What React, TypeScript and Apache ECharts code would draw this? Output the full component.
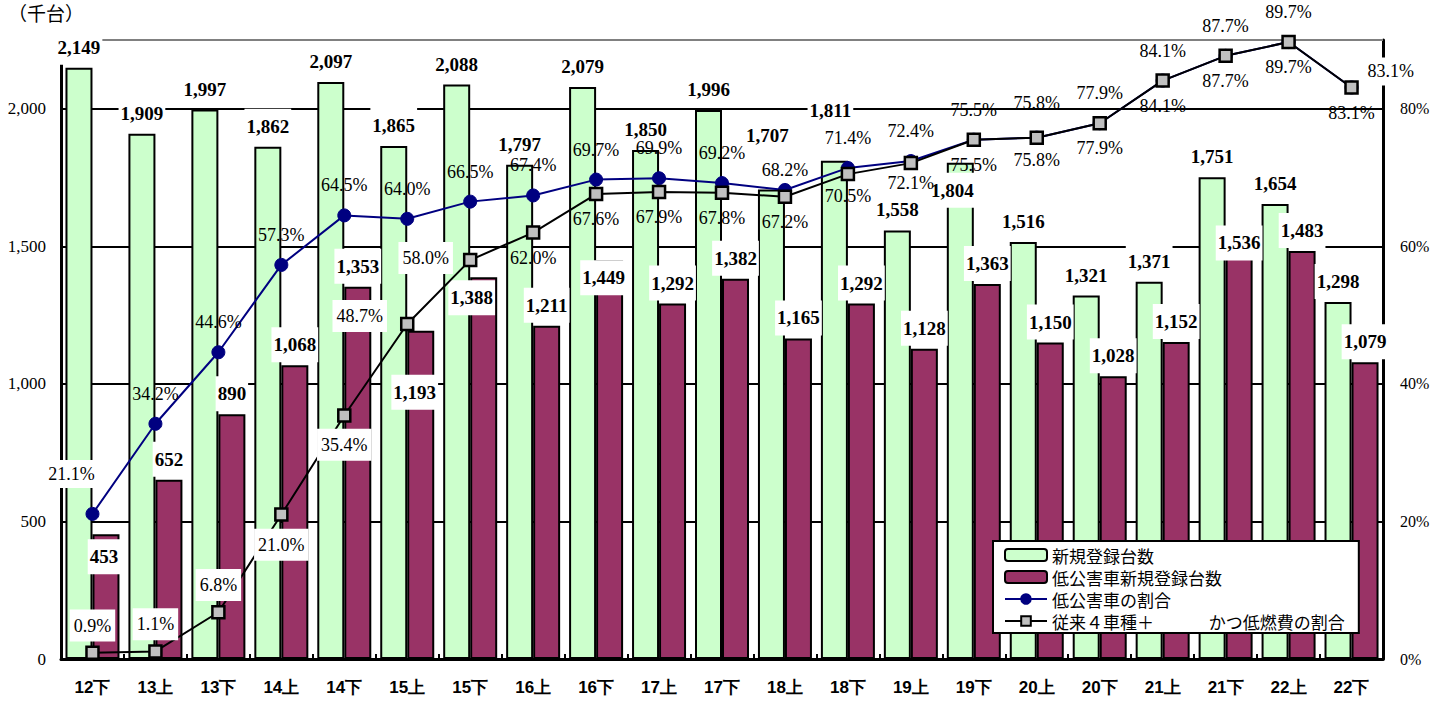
import React, { useEffect, useRef } from "react";
import * as echarts from "echarts";

const categories = ["12下","13上","13下","14上","14下","15上","15下","16上","16下","17上","17下","18上","18下","19上","19下","20上","20下","21上","21下","22上","22下"];
const newRegistrations = [2149,1909,1997,1862,2097,1865,2088,1797,2079,1850,1996,1707,1811,1558,1804,1516,1321,1371,1751,1654,1298];
const lowEmissionRegistrations = [453,652,890,1068,1353,1193,1388,1211,1449,1292,1382,1165,1292,1128,1363,1150,1028,1152,1536,1483,1079];
const lowEmissionShare = [21.1,34.2,44.6,57.3,64.5,64.0,66.5,67.4,69.7,69.9,69.2,68.2,71.4,72.4,75.5,75.8,77.9,84.1,87.7,89.7,83.1];
const fuelEfficientShare = [0.9,1.1,6.8,21.0,35.4,48.7,58.0,62.0,67.6,67.9,67.8,67.2,70.5,72.1,75.5,75.8,77.9,84.1,87.7,89.7,83.1];
const seriesNames = ["新規登録台数","低公害車新規登録台数","低公害車の割合","従来４車種＋　　　 かつ低燃費の割合"];
const unitLabel = "（千台）";
const leftAxisMax = 2250;
const rightAxisMax = 90;

const SERIF = "Liberation Serif";
const CJK = "Noto Sans CJK JP";

const fmtThousands = (v: number) => String(v).replace(/\B(?=(\d{3})+(?!\d))/g, ",");
const fmtPct = (v: number) => v.toFixed(1) + "%";

// label placement tweaks (layout only)
const greenShift: Record<number, [number, number]> = { 11: [-4, -33], 12: [-4, -30], 14: [-8, 48] };
const purpleShift: Record<number, [number, number]> = { 0: [-2, 43], 5: [-6, 82], 6: [-12, 41], 8: [-6, 38], 18: [0, 27] };

function blueLabel(i: number): any {
  if (i === 0) return { position: "top", distance: 15, offset: [-21, -4], backgroundColor: "#fff", padding: [6, 2] };
  if (i === 20) return { position: "right", distance: 7, offset: [0, -16], backgroundColor: "#fff", padding: [6, 2] };
  if (i === 11) return { position: "top", distance: 5 };
  if (i === 15) return { position: "top", distance: 20 };
  return { position: "top", distance: 15 };
}

function blackLabel(i: number): any {
  const boxed = { backgroundColor: "#fff", padding: [8, 4] };
  if (i <= 2) return { position: "top", distance: 4, ...boxed };
  if (i === 3) return { position: "bottom", distance: 7, ...boxed };
  if (i === 4) return { position: "bottom", distance: 6, ...boxed };
  if (i === 5) return { position: "left", distance: 13, offset: [0, -8], ...boxed };
  if (i === 6) return { position: "left", distance: 10, offset: [0, -2], ...boxed };
  if (i === 12 || i === 15) return { position: "bottom", distance: 7 };
  if (i === 13) return { position: "bottom", distance: 5 };
  return { position: "bottom", distance: 10 };
}

export default function App() {
  const ref = useRef<HTMLDivElement>(null);
  useEffect(() => {
    if (!ref.current) return;
    const chart = echarts.init(ref.current, undefined, { renderer: "svg" });
    const barLabel = {
      show: true,
      position: "top",
      distance: 3,
      fontFamily: SERIF,
      fontWeight: "bold",
      fontSize: 19,
      lineHeight: 17,
      color: "#000",
      backgroundColor: "#fff",
      padding: [9, 2],
      formatter: (p: any) => fmtThousands(p.value),
    };
    const pctLabel = {
      show: true,
      fontFamily: SERIF,
      fontSize: 18,
      lineHeight: 16,
      color: "#000",
      formatter: (p: any) => fmtPct(p.value),
    };
    chart.setOption({
      animation: false,
      backgroundColor: "#fff",
      grid: { left: 61, right: 64, top: 40, bottom: 42, outerBoundsMode: "none" },
      graphic: [
        {
          type: "text",
          left: 8,
          top: 3,
          style: { text: unitLabel, font: `19px ${CJK}`, fill: "#000" },
        },
      ],
      legend: {
        orient: "vertical",
        left: 993,
        top: 541,
        backgroundColor: "#fff",
        borderColor: "#000",
        borderWidth: 2,
        borderRadius: 0,
        padding: [5, 14, 3, 11],
        itemGap: 4,
        itemWidth: 42,
        itemHeight: 12,
        selectedMode: false,
        textStyle: { fontFamily: CJK, fontSize: 17, color: "#000", lineHeight: 18 },
        data: [
          { name: seriesNames[0], icon: "roundRect" },
          { name: seriesNames[1], icon: "roundRect" },
          { name: seriesNames[2] },
          { name: seriesNames[3] },
        ],
      },
      xAxis: {
        type: "category",
        data: categories,
        boundaryGap: true,
        axisLine: { show: true, lineStyle: { color: "#000", width: 3 } },
        axisTick: { show: true, inside: true, length: 5, lineStyle: { color: "#000", width: 2 } },
        axisLabel: {
          fontFamily: "Liberation Sans",
          fontWeight: "bold",
          fontSize: 17,
          color: "#000",
          margin: 20,
        },
        splitLine: { show: false },
      },
      yAxis: [
        {
          type: "value",
          min: 0,
          max: leftAxisMax,
          interval: 500,
          axisLine: { show: true, lineStyle: { color: "#000", width: 3 } },
          axisTick: { show: false },
          axisLabel: {
            fontFamily: SERIF,
            fontSize: 17,
            color: "#000",
            margin: 15,
            showMaxLabel: false,
            formatter: (v: number) => fmtThousands(v),
          },
          splitLine: {
            show: true,
            showMaxLine: false,
            lineStyle: { color: "#000", width: 2 },
          },
        },
        {
          type: "value",
          min: 0,
          max: rightAxisMax,
          interval: 20,
          position: "right",
          axisLine: { show: true, lineStyle: { color: "#000", width: 3 } },
          axisTick: { show: false },
          axisLabel: {
            fontFamily: SERIF,
            fontSize: 16,
            color: "#000",
            margin: 17,
            showMaxLabel: false,
            formatter: (v: number) => v + "%",
          },
          splitLine: { show: false },
        },
      ],
      series: [
        {
          name: seriesNames[0],
          type: "bar",
          barWidth: 27,
          barGap: "0%",
          itemStyle: { color: "#CCFFCC", borderColor: "#000", borderWidth: 2 },
          label: barLabel,
          markLine: {
            silent: true,
            symbol: "none",
            z: 1,
            label: { show: false },
            lineStyle: { color: "#808080", width: 2, type: "solid" },
            data: [{ yAxis: leftAxisMax }],
          },
          data: newRegistrations.map((v, i) =>
            greenShift[i] ? { value: v, label: { offset: greenShift[i] } } : v
          ),
        },
        {
          name: seriesNames[1],
          type: "bar",
          barWidth: 27,
          barGap: "0%",
          itemStyle: { color: "#993366", borderColor: "#000", borderWidth: 2 },
          label: barLabel,
          data: lowEmissionRegistrations.map((v, i) =>
            purpleShift[i] ? { value: v, label: { offset: purpleShift[i] } } : v
          ),
        },
        {
          name: seriesNames[2],
          type: "line",
          yAxisIndex: 1,
          symbol: "circle",
          symbolSize: 13,
          lineStyle: { color: "#000080", width: 2 },
          itemStyle: { color: "#000080", borderColor: "#000080", borderWidth: 1 },
          label: pctLabel,
          data: lowEmissionShare.map((v, i) => ({ value: v, label: blueLabel(i) })),
        },
        {
          name: seriesNames[3],
          type: "line",
          yAxisIndex: 1,
          symbol: "rect",
          symbolSize: 12,
          lineStyle: { color: "#000", width: 2 },
          itemStyle: { color: "#C0C0C0", borderColor: "#000", borderWidth: 2.5 },
          label: pctLabel,
          data: fuelEfficientShare.map((v, i) => ({ value: v, label: blackLabel(i) })),
        },
      ],
    });
    return () => chart.dispose();
  }, []);
  return (
    <div
      ref={ref}
      style={{ position: "absolute", left: 0, top: 0, width: 1447, height: 701 }}
    />
  );
}
